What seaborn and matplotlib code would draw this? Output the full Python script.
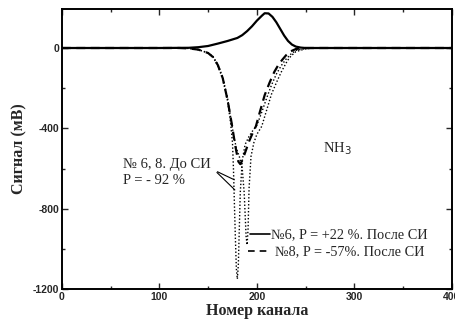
import matplotlib
matplotlib.use("Agg")
import matplotlib.pyplot as plt
import seaborn as sns
import pandas as pd
from matplotlib.ticker import MultipleLocator

# Signal (mV) versus channel number, NH3

# №6 after SI, P = +22 %
ch_6_after = [0, 100, 130, 140, 150, 160, 170, 180, 185, 190, 195, 200, 205, 208,
              212, 216, 220, 224, 228, 232, 236, 240, 245, 250, 260, 300, 400]
sig_6_after = [0, 0, 1, 4, 10, 22, 35, 50, 64, 84, 108, 136, 160, 173,
               172, 155, 128, 95, 62, 35, 17, 7, 2, 0, 0, 0, 0]

# №8 after SI, P = -57 %
ch_8_after = [0, 120, 130, 140, 150, 155, 160, 165, 170, 174, 178, 181, 183, 185,
              188, 192, 196, 199, 203, 208, 213, 218, 222, 226, 230, 235, 240, 250, 400]
sig_8_after = [0, 0, -2, -8, -25, -45, -85, -150, -260, -370, -490, -565, -578, -560,
               -520, -465, -420, -390, -320, -235, -173, -118, -85, -59, -36, -16, -5, 0, 0]

# №6 before SI
ch_6_before = [0, 120, 130, 140, 150, 155, 160, 165, 170, 173, 175, 176, 177, 178,
               179, 180, 181, 182, 183, 185, 188, 192, 196, 200, 205, 210, 215, 220,
               225, 230, 235, 240, 250, 260, 400]
sig_6_before = [0, 0, -2, -8, -25, -45, -88, -155, -265, -370, -470, -600, -780, -950,
                -1100, -1150, -1080, -900, -720, -560, -480, -440, -410, -385, -320, -250,
                -185, -130, -88, -55, -30, -12, -3, 0, 0]

# №8 before SI
ch_8_before = [0, 120, 130, 140, 150, 155, 160, 165, 170, 173, 176, 179, 182, 185,
               187, 188, 189, 190, 191, 192, 194, 197, 200, 205, 210, 215, 220, 225,
               230, 232, 235, 240, 250, 260, 400]
sig_8_before = [0, 0, -2, -8, -24, -42, -82, -145, -250, -340, -430, -500, -540, -600,
                -720, -830, -940, -980, -900, -700, -540, -470, -430, -390, -310, -230,
                -173, -120, -75, -59, -40, -18, -4, 0, 0]

x_ticks = [0, 100, 200, 300, 400]
y_ticks = [0, -400, -800, -1200]

sns.set_theme(style="ticks")
plt.rcParams["font.family"] = ["Liberation Serif", "DejaVu Serif"]
plt.rcParams["axes.unicode_minus"] = False

fig = plt.figure(figsize=(4.55, 3.27), dpi=100)
ax = fig.add_axes([0.136, 0.116, 0.857, 0.857])

def frame(ch, sig):
    return pd.DataFrame({"ch": ch, "sig": sig})

sns.lineplot(data=frame(ch_6_before, sig_6_before), x="ch", y="sig", ax=ax,
             color="black", lw=1.0, linestyle=(0, (1, 1.5)), sort=False)
sns.lineplot(data=frame(ch_8_before, sig_8_before), x="ch", y="sig", ax=ax,
             color="black", lw=1.0, linestyle=(0, (1, 1.5)), sort=False)
sns.lineplot(data=frame(ch_8_after, sig_8_after), x="ch", y="sig", ax=ax,
             color="black", lw=1.6, linestyle=(0, (4, 2.5)), sort=False)
sns.lineplot(data=frame(ch_6_after, sig_6_after), x="ch", y="sig", ax=ax,
             color="black", lw=1.6, linestyle="-", sort=False)

ax.set_xlim(0, 400)
ax.set_ylim(-1200, 195)
ax.set_xticks(x_ticks)
ax.set_yticks(y_ticks)
ax.xaxis.set_minor_locator(MultipleLocator(50))
ax.yaxis.set_minor_locator(MultipleLocator(200))
ax.tick_params(which="both", direction="in", top=True, right=True, width=1.0)
ax.tick_params(which="major", length=4, pad=2)
ax.tick_params(which="minor", length=2.5)
for lab in ax.get_xticklabels() + ax.get_yticklabels():
    lab.set_family(["Liberation Sans", "DejaVu Sans"])
    lab.set_fontweight("bold")
    lab.set_fontsize(7.5)
for sp in ax.spines.values():
    sp.set_linewidth(1.4)
    sp.set_color("black")

ax.set_xlabel("Номер канала", fontsize=11.5, fontweight="bold", labelpad=1)
ax.set_ylabel("Сигнал (мВ)", fontsize=11.5, fontweight="bold", labelpad=4)

ax.text(268, -500, "NH$_3$", fontsize=10.5, ha="left", va="center")
ax.text(63, -578, "№ 6, 8. До СИ", fontsize=10.5, ha="left", va="center")
ax.text(63, -662, "P = - 92 %", fontsize=10.5, ha="left", va="center")
for yt in (-662, -716):
    ax.annotate("", xy=(179.5, yt), xytext=(157, -610),
                arrowprops=dict(arrowstyle="-", color="black", lw=0.8))

ax.plot([193, 214], [-928, -928], color="black", lw=1.2)
ax.text(215, -928, "№6, P = +22 %. После СИ", fontsize=10.3, ha="left", va="center")
ax.plot([191, 212], [-1012, -1012], color="black", lw=1.2, linestyle=(0, (4, 3)))
ax.text(219, -1012, "№8, P = -57%. После СИ", fontsize=10.3, ha="left", va="center")

fig.savefig("out.png", dpi=100)
